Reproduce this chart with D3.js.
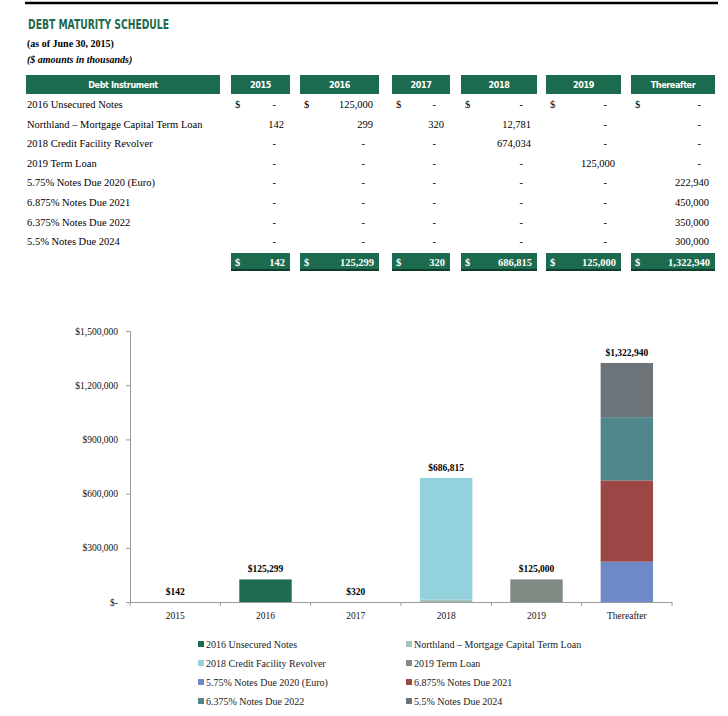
<!DOCTYPE html>
<html lang="en">
  <head>
    <meta charset="UTF-8" />
    <title>Debt Maturity Schedule</title>
    <script src="https://d3js.org/d3.v7.min.js"></script>
    <style>
      body {
        margin: 0;
        background: #fff;
      }
      svg {
        display: block;
      }
      .serif {
        font-family: "Liberation Serif", "DejaVu Serif", serif;
      }
      .heavy {
        font-family: "DejaVu Sans Condensed", "Liberation Sans Narrow", sans-serif;
        font-weight: bold;
      }
    </style>
  </head>
  <body>
    <svg id="page" width="728" height="716"></svg>

    <script>
      const years = ["2015", "2016", "2017", "2018", "2019", "Thereafter"];

      const instruments = [
        "2016 Unsecured Notes",
        "Northland \u2013 Mortgage Capital Term Loan",
        "2018 Credit Facility Revolver",
        "2019 Term Loan",
        "5.75% Notes Due 2020 (Euro)",
        "6.875% Notes Due 2021",
        "6.375% Notes Due 2022",
        "5.5% Notes Due 2024",
      ];

      // one array per instrument, in the order of years
      const unsecured2016 = [0, 125000, 0, 0, 0, 0];
      const northland = [142, 299, 320, 12781, 0, 0];
      const revolver2018 = [0, 0, 0, 674034, 0, 0];
      const termLoan2019 = [0, 0, 0, 0, 125000, 0];
      const notes2020 = [0, 0, 0, 0, 0, 222940];
      const notes2021 = [0, 0, 0, 0, 0, 450000];
      const notes2022 = [0, 0, 0, 0, 0, 350000];
      const notes2024 = [0, 0, 0, 0, 0, 300000];

      const seriesValues = [
        unsecured2016,
        northland,
        revolver2018,
        termLoan2019,
        notes2020,
        notes2021,
        notes2022,
        notes2024,
      ];

      const colors = [
        "#1e6b4f",
        "#a6c3b6",
        "#93d2dc",
        "#7f8a83",
        "#6f88c8",
        "#9a4745",
        "#4f878c",
        "#6c747a",
      ];

      const yTicks = [0, 300000, 600000, 900000, 1200000, 1500000];

      const green = "#1d6b4e";
      const fmt = d3.format(",");
      const totals = years.map((y, i) => d3.sum(seriesValues, (s) => s[i]));

      const svg = d3.select("#page");

      // top rule
      svg
        .append("line")
        .attr("x1", 25)
        .attr("x2", 718)
        .attr("y1", 3)
        .attr("y2", 3)
        .attr("stroke", "#000")
        .attr("stroke-width", 2.5);

      // titles
      svg
        .append("text")
        .attr("class", "heavy")
        .attr("x", 28)
        .attr("y", 29)
        .attr("fill", green)
        .attr("font-size", 14.5)
        .attr("textLength", 141)
        .attr("lengthAdjust", "spacingAndGlyphs")
        .text("DEBT MATURITY SCHEDULE");

      svg
        .append("text")
        .attr("class", "serif")
        .attr("x", 27)
        .attr("y", 47)
        .attr("font-size", 10)
        .attr("font-weight", "bold")
        .text("(as of June 30, 2015)");

      svg
        .append("text")
        .attr("class", "serif")
        .attr("x", 27)
        .attr("y", 63)
        .attr("font-size", 10)
        .attr("font-weight", "bold")
        .attr("font-style", "italic")
        .text("($ amounts in thousands)");

      // ---- table ----
      const colLeft = [231, 300, 392, 461, 546, 631];
      const colRight = [290, 379, 450, 537, 621, 715];
      const headTop = 75;
      const headH = 19;
      const rowY = (i) => 108 + i * 19.6;

      const head = svg.append("g");
      head
        .append("rect")
        .attr("x", 26)
        .attr("y", headTop)
        .attr("width", 194)
        .attr("height", headH)
        .attr("fill", green);
      head
        .append("text")
        .attr("class", "heavy")
        .attr("x", 123)
        .attr("y", headTop + 13)
        .attr("text-anchor", "middle")
        .attr("fill", "#fff")
        .attr("font-size", 9)
        .attr("letter-spacing", -0.4)
        .text("Debt Instrument");

      years.forEach((yr, j) => {
        head
          .append("rect")
          .attr("x", colLeft[j])
          .attr("y", headTop)
          .attr("width", colRight[j] - colLeft[j])
          .attr("height", headH)
          .attr("fill", green);
        head
          .append("text")
          .attr("class", "heavy")
          .attr("x", (colLeft[j] + colRight[j]) / 2)
          .attr("y", headTop + 13)
          .attr("text-anchor", "middle")
          .attr("fill", "#fff")
          .attr("font-size", 9)
          .attr("letter-spacing", -0.4)
          .text(yr);
      });

      const body = svg.append("g").attr("class", "serif").attr("font-size", 10.5);

      instruments.forEach((name, i) => {
        body
          .append("text")
          .attr("x", 27)
          .attr("y", rowY(i))
          .text(name);

        years.forEach((yr, j) => {
          const v = seriesValues[i][j];
          if (i === 0) {
            body
              .append("text")
              .attr("x", colLeft[j] + 4)
              .attr("y", rowY(i))
              .text("$");
          }
          body
            .append("text")
            .attr("x", v ? colRight[j] - 6 : colRight[j] - 14)
            .attr("y", rowY(i))
            .attr("text-anchor", "end")
            .text(v ? fmt(v) : "-");
        });
      });

      // totals row
      const totTop = 253;
      years.forEach((yr, j) => {
        const w = colRight[j] - colLeft[j];
        svg
          .append("rect")
          .attr("x", colLeft[j])
          .attr("y", totTop)
          .attr("width", w)
          .attr("height", 17)
          .attr("fill", green);
        svg
          .append("rect")
          .attr("x", colLeft[j])
          .attr("y", totTop + 16)
          .attr("width", w)
          .attr("height", 2)
          .attr("fill", "#0f3d2c");
        svg
          .append("text")
          .attr("class", "serif")
          .attr("x", colLeft[j] + 4)
          .attr("y", totTop + 12.5)
          .attr("fill", "#fff")
          .attr("font-size", 10.5)
          .attr("font-weight", "bold")
          .text("$");
        svg
          .append("text")
          .attr("class", "serif")
          .attr("x", colRight[j] - 5)
          .attr("y", totTop + 12.5)
          .attr("text-anchor", "end")
          .attr("fill", "#fff")
          .attr("font-size", 10.5)
          .attr("font-weight", "bold")
          .text(fmt(totals[j]));
      });

      // ---- chart ----
      const chart = { left: 130, right: 672, top: 331, bottom: 602 };

      const x = d3
        .scaleBand()
        .domain(years)
        .range([chart.left, chart.right])
        .paddingInner(0.42)
        .paddingOuter(0.21);

      const y = d3
        .scaleLinear()
        .domain([0, 1500000])
        .range([chart.bottom, chart.top]);

      const rows = years.map((yr, j) => {
        const r = { year: yr };
        instruments.forEach((name, i) => (r[name] = seriesValues[i][j]));
        return r;
      });

      const stack = d3.stack().keys(instruments)(rows);

      const g = svg.append("g");

      g.selectAll(".layer")
        .data(stack)
        .join("g")
        .attr("class", "layer")
        .attr("fill", (d, i) => colors[i])
        .selectAll("rect")
        .data((d) => d)
        .join("rect")
        .attr("x", (d) => x(d.data.year))
        .attr("y", (d) => y(d[1]))
        .attr("width", x.bandwidth())
        .attr("height", (d) => y(d[0]) - y(d[1]));

      // y axis
      const yAxis = g
        .append("g")
        .attr("transform", `translate(${chart.left},0)`)
        .call(
          d3
            .axisLeft(y)
            .tickValues(yTicks)
            .tickSize(4)
            .tickPadding(8)
            .tickFormat((d) => (d === 0 ? "$-" : "$" + fmt(d)))
        );
      yAxis.select(".domain").attr("stroke", "#9a9a9a");
      yAxis.selectAll(".tick line").attr("stroke", "#9a9a9a");
      yAxis
        .selectAll(".tick text")
        .attr("class", "serif")
        .attr("font-size", 9.5)
        .attr("fill", "#111");

      // x axis with ticks between categories
      const xAxis = g
        .append("g")
        .attr("transform", `translate(0,${chart.bottom})`)
        .call(d3.axisBottom(x).tickSize(0).tickPadding(10));
      xAxis.select(".domain").attr("stroke", "#9a9a9a");
      xAxis
        .selectAll(".tick text")
        .attr("class", "serif")
        .attr("font-size", 9.5)
        .attr("fill", "#111");

      g.append("g")
        .selectAll("line")
        .data(d3.range(years.length + 1))
        .join("line")
        .attr("x1", (i) => chart.left + i * ((chart.right - chart.left) / years.length))
        .attr("x2", (i) => chart.left + i * ((chart.right - chart.left) / years.length))
        .attr("y1", chart.bottom)
        .attr("y2", chart.bottom + 4)
        .attr("stroke", "#9a9a9a");

      // total labels
      g.selectAll(".total")
        .data(rows)
        .join("text")
        .attr("class", "serif")
        .attr("x", (d) => x(d.year) + x.bandwidth() / 2)
        .attr("y", (d, j) => y(totals[j]) - 7)
        .attr("text-anchor", "middle")
        .attr("font-size", 9.5)
        .attr("font-weight", "bold")
        .text((d, j) => "$" + fmt(totals[j]));

      // legend
      const legend = svg.append("g").attr("class", "serif").attr("font-size", 10);
      instruments.forEach((name, i) => {
        const col = i % 2;
        const row = Math.floor(i / 2);
        const lx = col === 0 ? 198 : 406;
        const ly = 644 + row * 19;
        legend
          .append("rect")
          .attr("x", lx)
          .attr("y", ly - 3)
          .attr("width", 6)
          .attr("height", 6)
          .attr("fill", colors[i]);
        legend
          .append("text")
          .attr("x", lx + 8)
          .attr("y", ly + 3.5)
          .attr("fill", "#222")
          .text(name);
      });
    </script>
  </body>
</html>
